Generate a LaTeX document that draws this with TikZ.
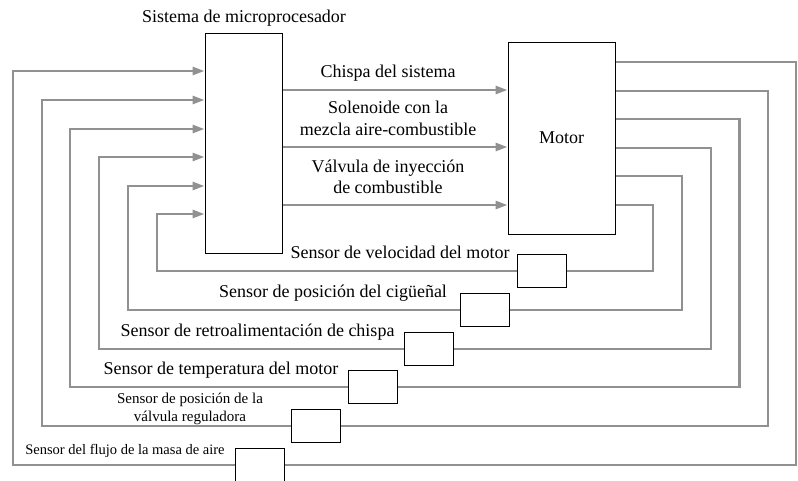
\documentclass[tikz,border=0pt]{standalone}
\usepackage{fontspec}
\setmainfont{Liberation Serif}
\usetikzlibrary{arrows.meta}
\definecolor{wiregray}{RGB}{145,145,145}
\tikzset{
  block/.style={draw=black, line width=1pt, inner sep=0pt, font=\fontsize{18}{21}\selectfont},
  sensorbox/.style={draw=black, line width=1pt, fill=white, minimum width=49pt, minimum height=33pt, inner sep=0pt},
  wire/.style={draw=wiregray, line width=2.7pt},
  signal/.style={wire, -{Triangle[length=12pt,width=8pt]}},
  lbl/.style={font=\fontsize{18}{21.5}\selectfont, align=center, inner sep=0pt},
  smalllbl/.style={font=\fontsize{15}{18}\selectfont, align=center, inner sep=0pt}
}
\begin{document}
\begin{tikzpicture}[x=1pt,y=-1pt]
\useasboundingbox (0,0) rectangle (798,480);

% Draw the two main blocks
\node[block, minimum width=77pt, minimum height=220pt] (micro) at (243.5,143) {};
\node[lbl, anchor=base] (microtitle) at (244,22) {Sistema de microprocesador};
\node[block, minimum width=107pt, minimum height=192pt] (motor) at (561.5,138) {Motor};

% Signals from the microprocessor to the motor
\draw[signal] (micro.east |- 0,90) -- (motor.west |- 0,90);
\node[lbl, anchor=base] (chispa) at (388,77) {Chispa del sistema};
\draw[signal] (micro.east |- 0,147) -- (motor.west |- 0,147);
\node[lbl] (solenoide) at (388,118.5) {Solenoide con la\\mezcla aire-combustible};
\draw[signal] (micro.east |- 0,205) -- (motor.west |- 0,205);
\node[lbl] (valvula) at (388,177) {Válvula de inyección\\de combustible};

% Sensor boxes on the feedback loops
\node[sensorbox] (s1) at (541.5,271) {};
\node[sensorbox] (s2) at (485,310) {};
\node[sensorbox] (s3) at (428.5,349) {};
\node[sensorbox] (s4) at (372.5,387) {};
\node[sensorbox] (s5) at (316,426) {};
\node[sensorbox] (s6) at (260,465) {};

% Feedback loops: motor -> sensor -> microprocessor
\draw[wire] (motor.east |- 0,205) -| (653,271) -- (s1.east);
\draw[signal] (s1.west) -| (157,214) -- (micro.west |- 0,214);
\draw[wire] (motor.east |- 0,176) -| (682,310) -- (s2.east);
\draw[signal] (s2.west) -| (128,186) -- (micro.west |- 0,186);
\draw[wire] (motor.east |- 0,148) -| (711,349) -- (s3.east);
\draw[signal] (s3.west) -| (99,157) -- (micro.west |- 0,157);
\draw[wire] (motor.east |- 0,119) -| (739.5,387) -- (s4.east);
\draw[signal] (s4.west) -| (70,129) -- (micro.west |- 0,129);
\draw[wire] (motor.east |- 0,91) -| (768,426) -- (s5.east);
\draw[signal] (s5.west) -| (42,100) -- (micro.west |- 0,100);
\draw[wire] (motor.east |- 0,62) -| (796,465) -- (s6.east);
\draw[signal] (s6.west) -| (13,71) -- (micro.west |- 0,71);

% Sensor names
\node[lbl, anchor=base] (l1) at (400,258) {Sensor de velocidad del motor};
\node[lbl, anchor=base] (l2) at (333,297) {Sensor de posición del cigüeñal};
\node[lbl, anchor=base] (l3) at (257.5,336) {Sensor de retroalimentación de chispa};
\node[lbl, anchor=base] (l4) at (221,374) {Sensor de temperatura del motor};
\node[smalllbl] (l5) at (190,409) {Sensor de posición de la\\válvula reguladora};
\node[smalllbl, font=\fontsize{14.5}{18}\selectfont, anchor=base] (l6) at (125,454) {Sensor del flujo de la masa de aire};
\end{tikzpicture}
\end{document}
